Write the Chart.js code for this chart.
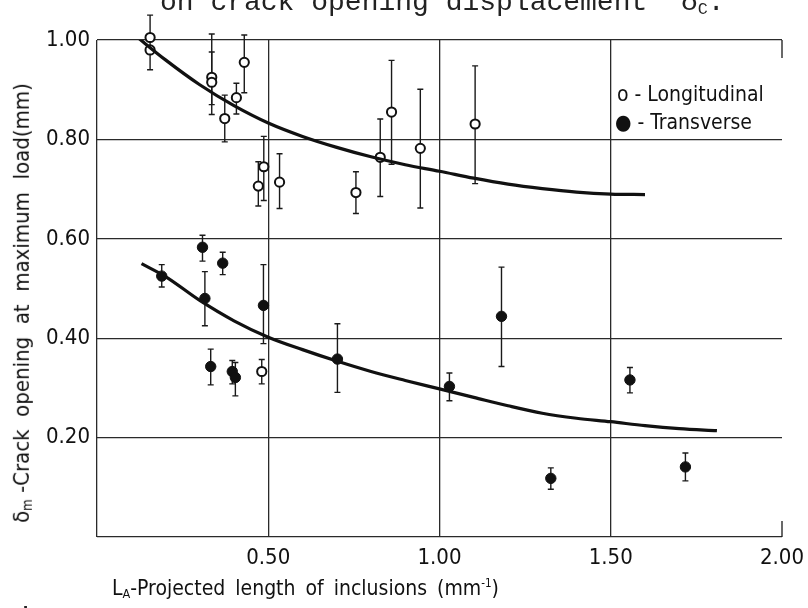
<!DOCTYPE html>
<html>
<head>
<meta charset="utf-8">
<script src="https://cdn.jsdelivr.net/npm/chart.js@4.4.1/dist/chart.umd.min.js"></script>
<style>
  body { margin: 0; background: #fff; }
  #wrap { position: relative; width: 808px; height: 608px; overflow: hidden; background: #fff; }
  .txt { position: absolute; white-space: nowrap; color: #111; font-family: "DejaVu Sans Condensed", "Liberation Sans", sans-serif; }
  .mono { font-family: "Liberation Mono", "DejaVu Sans Mono", monospace; font-size: 28px; line-height: 28px; color: #222; }
  sub { font-size: 0.6em; vertical-align: -0.25em; }
  sup { font-size: 0.55em; vertical-align: 0.7em; }
</style>
</head>
<body>
<div id="wrap">
  <canvas id="scatterChart" width="808" height="608"></canvas>
  <div class="txt mono" style="left:160px; top:-11px;">on crack opening displacement &nbsp;δ<sub>C</sub>.</div>
  <div class="txt" style="left:22px; top:303px; font-size:22px; transform:translate(-50%,-50%) rotate(-90deg);">δ<sub>m</sub> -Crack&nbsp; opening&nbsp; at&nbsp; maximum&nbsp; load(mm)</div>
  <div class="txt" style="left:112px; top:576px; font-size:21px; word-spacing:4px;">L<sub>A</sub>-Projected length of inclusions (mm<sup>-1</sup>)</div>
  <div class="txt" style="left:617px; top:82px; font-size:21px;">o - Longitudinal</div>
  <div class="txt" style="left:615px; top:110px; font-size:21px;">● - Transverse</div>
  <div class="txt mono" style="left:0px; top:605px;">Figure 6.</div>
</div>
<script>
// values
const longX  = [0.155, 0.155, 0.335, 0.335, 0.373, 0.407, 0.430, 0.471, 0.487, 0.533, 0.756, 0.827, 0.860, 0.944, 1.104, 0.481];
const longY  = [1.005, 0.980, 0.925, 0.915, 0.842, 0.884, 0.955, 0.706, 0.745, 0.714, 0.693, 0.764, 0.855, 0.782, 0.831, 0.333];
const longLo = [0.980, 0.940, 0.850, 0.870, 0.795, 0.851, 0.894, 0.666, 0.677, 0.661, 0.651, 0.685, 0.750, 0.662, 0.711, 0.308];
const longHi = [1.050, 0.980, 1.012, 0.976, 0.889, 0.913, 1.010, 0.755, 0.806, 0.771, 0.735, 0.841, 0.959, 0.901, 0.948, 0.357];

const transX  = [0.189, 0.308, 0.367, 0.315, 0.486, 0.332, 0.395, 0.404, 0.702, 1.029, 1.181, 1.325, 1.556, 1.718];
const transY  = [0.525, 0.583, 0.551, 0.480, 0.466, 0.343, 0.333, 0.321, 0.358, 0.303, 0.444, 0.118, 0.316, 0.141];
const transLo = [0.503, 0.555, 0.528, 0.425, 0.389, 0.306, 0.308, 0.284, 0.291, 0.274, 0.343, 0.096, 0.290, 0.113];
const transHi = [0.548, 0.607, 0.573, 0.534, 0.548, 0.378, 0.355, 0.351, 0.429, 0.330, 0.543, 0.139, 0.341, 0.169];

// fitted curves (traced)
const fitLongX = [0.11, 0.2, 0.3, 0.4, 0.5, 0.6, 0.7, 0.8, 0.9, 1.0, 1.1, 1.2, 1.3, 1.4, 1.5, 1.6];
const fitLongY = [1.01, 0.96, 0.91, 0.868, 0.833, 0.806, 0.784, 0.765, 0.749, 0.736, 0.722, 0.710, 0.701, 0.694, 0.690, 0.689];
const fitTransX = [0.13, 0.2, 0.3, 0.4, 0.5, 0.6, 0.7, 0.8, 0.9, 1.0, 1.1, 1.2, 1.3, 1.4, 1.5, 1.6, 1.7, 1.81];
const fitTransY = [0.55, 0.524, 0.476, 0.435, 0.402, 0.377, 0.354, 0.333, 0.315, 0.298, 0.281, 0.264, 0.249, 0.239, 0.232, 0.224, 0.218, 0.214];

const xTicks = [0, 0.5, 1.0, 1.5, 2.0];
const yTicks = [0, 0.2, 0.4, 0.6, 0.8, 1.0];

const pts = (xs, ys) => xs.map((x, i) => ({ x: x, y: ys[i] }));

const ink = '#1a1a1a';
const tickFont = { family: '"Liberation Sans Narrow", "DejaVu Sans Condensed", sans-serif', size: 22 };

// vertical error bars with small caps
const errorBars = {
  id: 'errorBars',
  beforeDatasetsDraw(chart) {
    const { ctx, scales: { x, y } } = chart;
    const sets = [[longX, longLo, longHi], [transX, transLo, transHi]];
    ctx.save();
    ctx.strokeStyle = ink;
    ctx.lineWidth = 1.4;
    sets.forEach(([xs, lo, hi]) => {
      xs.forEach((v, i) => {
        const px = x.getPixelForValue(v);
        const p1 = y.getPixelForValue(lo[i]);
        const p2 = y.getPixelForValue(hi[i]);
        ctx.beginPath();
        ctx.moveTo(px, p1); ctx.lineTo(px, p2);
        ctx.moveTo(px - 3, p1); ctx.lineTo(px + 3, p1);
        ctx.moveTo(px - 3, p2); ctx.lineTo(px + 3, p2);
        ctx.stroke();
      });
    });
    ctx.restore();
  }
};

// short corner marks on the right edge, as in the original frame
const frameCorners = {
  id: 'frameCorners',
  afterDraw(chart) {
    const { ctx, chartArea: a } = chart;
    ctx.save();
    ctx.strokeStyle = ink;
    ctx.lineWidth = 1.3;
    ctx.beginPath();
    ctx.moveTo(a.right, a.top); ctx.lineTo(a.right, a.top + 18);
    ctx.moveTo(a.right, a.bottom); ctx.lineTo(a.right, a.bottom - 16);
    ctx.stroke();
    ctx.restore();
  }
};

new Chart(document.getElementById('scatterChart').getContext('2d'), {
  type: 'scatter',
  data: {
    datasets: [
      {
        type: 'line',
        label: 'Longitudinal fit',
        data: pts(fitLongX, fitLongY),
        borderColor: '#111',
        borderWidth: 3.2,
        pointRadius: 0,
        cubicInterpolationMode: 'monotone',
        fill: false
      },
      {
        type: 'line',
        label: 'Transverse fit',
        data: pts(fitTransX, fitTransY),
        borderColor: '#111',
        borderWidth: 3.2,
        pointRadius: 0,
        cubicInterpolationMode: 'monotone',
        fill: false
      },
      {
        label: 'Longitudinal',
        data: pts(longX, longY),
        pointRadius: 4.6,
        pointBorderWidth: 2,
        pointBorderColor: '#111',
        pointBackgroundColor: '#fff',
        clip: false
      },
      {
        label: 'Transverse',
        data: pts(transX, transY),
        pointRadius: 5.2,
        pointBorderWidth: 1,
        pointBorderColor: '#111',
        pointBackgroundColor: '#111',
        clip: false
      }
    ]
  },
  options: {
    responsive: false,
    animation: false,
    events: [],
    layout: { padding: { left: 0, right: 26, top: 40, bottom: 0 } },
    plugins: {
      legend: { display: false },
      tooltip: { enabled: false }
    },
    scales: {
      x: {
        type: 'linear',
        min: 0,
        max: 2,
        afterBuildTicks: (s) => { s.ticks = xTicks.map(v => ({ value: v })); },
        afterFit: (s) => { s.height = 71; s.paddingRight = 0; s.paddingLeft = 0; },
        border: { display: false },
        grid: {
          drawTicks: false,
          lineWidth: 1.3,
          color: (c) => (c.tick && c.tick.value === 2 ? 'rgba(0,0,0,0)' : '#2a2a2a')
        },
        ticks: {
          padding: 8,
          color: '#111',
          font: tickFont,
          callback: (v) => (v === 0 ? '' : v.toFixed(2))
        }
      },
      y: {
        type: 'linear',
        min: 0,
        max: 1,
        afterBuildTicks: (s) => { s.ticks = yTicks.map(v => ({ value: v })); },
        afterFit: (s) => { s.width = 97; },
        border: { display: false },
        grid: {
          drawTicks: false,
          lineWidth: 1.3,
          color: '#2a2a2a'
        },
        ticks: {
          padding: 7,
          color: '#111',
          font: tickFont,
          callback: (v) => (v === 0 ? '' : v.toFixed(2))
        }
      }
    }
  },
  plugins: [errorBars, frameCorners]
});
</script>
</body>
</html>
